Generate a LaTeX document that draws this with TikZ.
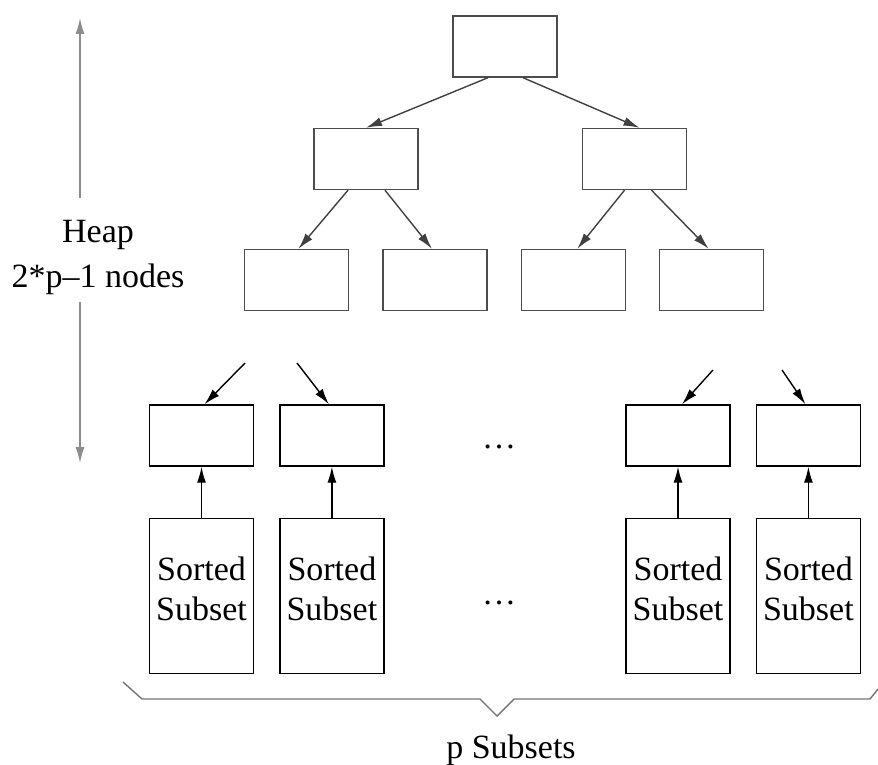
\documentclass[tikz,border=0pt]{standalone}
\usepackage{fontspec}
\setmainfont{Liberation Serif}
\usetikzlibrary{positioning,arrows.meta}

\begin{document}
\begin{tikzpicture}[x=1pt,y=-1pt,>={Latex[length=16pt,width=9pt]},line width=1.4pt,node distance=33pt,
        treebox/.style={draw=black!70,minimum width=104pt,minimum height=61pt,inner sep=0pt},
        leafbox/.style={draw,minimum width=104pt,minimum height=61pt,inner sep=0pt},
        subsetbox/.style={draw,minimum width=104pt,minimum height=155pt,inner sep=0pt,align=center,font=\fontsize{34}{40}\selectfont,text depth=14pt},
        treearrow/.style={->,draw=black!75},
        bigtext/.style={font=\fontsize{34}{45}\selectfont}]
        \useasboundingbox (0,0) rectangle (878,765);
        % heap tree
        \node[treebox] (root) at (505,46.5) {};
        \node[treebox] (left) at (366,159) {};
        \node[treebox] (right) at (634.5,159) {};
        \node[treebox] (ll) at (296.5,280) {};
        \node[treebox,right=of ll] (lr) {};
        \node[treebox,right=of lr] (rl) {};
        \node[treebox,right=of rl] (rr) {};
        \draw[treearrow] ([xshift=-17pt]root.south) -- (left.north);
        \draw[treearrow] ([xshift=18pt]root.south) -- ([xshift=5pt]right.north);
        \draw[treearrow] ([xshift=-18pt]left.south) -- ([xshift=2pt]ll.north);
        \draw[treearrow] ([xshift=19pt]left.south) -- ([xshift=-3pt]lr.north);
        \draw[treearrow] ([xshift=-10pt]right.south) -- ([xshift=4pt]rl.north);
        \draw[treearrow] ([xshift=17pt]right.south) -- ([xshift=-3pt]rr.north);
        % leaves and sorted subsets
        \node[leafbox] (leafa) at (201.5,435.5) {};
        \node[leafbox,right=25pt of leafa] (leafb) {};
        \node[leafbox] (leafc) at (678,435.5) {};
        \node[leafbox,right=25pt of leafc] (leafd) {};
        \foreach \n in {a,b,c,d} {
            \node[subsetbox,below=51pt of leaf\n] (sub\n) {Sorted\\Subset};
            \draw[->] (sub\n) -- (leaf\n);
        }
        \coordinate (ina) at (245,363);
        \coordinate (inb) at (297,363);
        \coordinate (inc) at (713,370);
        \coordinate (ind) at (782,370);
        \draw[->] (ina) -- ([xshift=3pt]leafa.north);
        \draw[->] (inb) -- ([xshift=-3pt]leafb.north);
        \draw[->] (inc) -- ([xshift=4pt]leafc.north);
        \draw[->] (ind) -- ([xshift=-3pt]leafd.north);
        \node[bigtext,anchor=base] (dotsup) at (499,448) {\ldots};
        \node[bigtext,anchor=base] (dotsdown) at (499,604) {\ldots};
        % heap height
        \node[bigtext,align=center] (heaplabel) at (98,257) {Heap\\2*p--1 nodes};
        \coordinate (heaptop) at (80,18);
        \coordinate (heapup) at (80,198);
        \coordinate (heapdown) at (80,302);
        \coordinate (heapbot) at (80,463);
        \draw[->,black!45] (heapup) -- (heaptop);
        \draw[->,black!45] (heapdown) -- (heapbot);
        % brace
        \draw[black!55] (123,682) -- (142,699) -- (480,699) -- (497,716) -- (514,699) -- (870,699) -- (878,689);
        \node[bigtext,anchor=base] (total) at (511,758) {p Subsets};
    \end{tikzpicture}
\end{document}
